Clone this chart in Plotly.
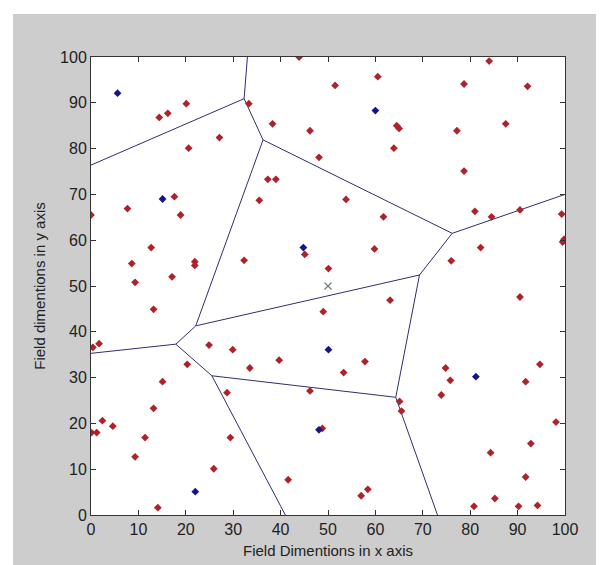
import plotly.graph_objects as go

# Sensor nodes (red)
node_x = [20.1, 16.2, 14.4, 27.1, 20.6, 33.3, 37.3, 43.9, 51.5, 60.5, 38.3, 46.2, 64.5, 65.0,
          63.9, 48.1, 39.0, 84.0, 78.7, 92.1, 77.2, 87.5, 78.7, 17.6, 7.7, 0.0, 18.9, 35.5,
          12.7, 8.6, 21.9, 21.9, 32.3, 17.1, 9.3, 13.2, 24.9, 29.9, 0.4, 1.7, 53.8, 61.7,
          45.1, 59.8, 50.1, 63.1, 49.0, 81.0, 84.5, 90.5, 99.3, 99.5, 99.8, 82.2, 76.0, 90.5,
          20.3, 33.5, 15.1, 28.7, 13.2, 2.4, 4.6, 0.1, 1.2, 11.4, 29.4, 9.3, 25.9, 14.1,
          39.7, 57.8, 53.3, 46.2, 65.1, 65.5, 48.8, 41.6, 58.4, 57.0,
          74.8, 75.8, 73.9, 94.7, 91.7, 98.1, 92.8, 84.3, 91.7, 85.2, 80.8, 90.2, 94.2]
node_y = [89.8, 87.7, 86.8, 82.4, 80.1, 89.8, 73.3, 100.0, 93.8, 95.7, 85.4, 83.9, 85.0, 84.4,
          80.1, 78.1, 73.3, 99.1, 94.1, 93.6, 83.9, 85.4, 75.1, 69.5, 66.9, 65.5, 65.5, 68.7,
          58.4, 54.9, 55.3, 54.5, 55.6, 52.0, 50.8, 44.9, 37.1, 36.1, 36.6, 37.4, 68.9, 65.1,
          56.9, 58.1, 53.8, 46.9, 44.4, 66.3, 65.1, 66.6, 65.7, 59.6, 60.2, 58.4, 55.5, 47.6,
          32.9, 32.1, 29.1, 26.7, 23.3, 20.6, 19.4, 18.0, 18.0, 16.9, 16.9, 12.7, 10.1, 1.6,
          33.8, 33.5, 31.1, 27.1, 24.8, 22.7, 18.9, 7.7, 5.6, 4.2,
          32.1, 29.4, 26.2, 32.9, 29.1, 20.3, 15.6, 13.6, 8.3, 3.6, 1.9, 1.9, 2.1]

# Cluster heads (blue)
head_x = [5.6, 15.1, 60.0, 44.8, 50.1, 48.1, 22.0, 81.2]
head_y = [92.1, 69.0, 88.3, 58.4, 36.1, 18.6, 5.1, 30.2]

# Base station
bs_x = [50.0]
bs_y = [50.0]

# Voronoi edges (polylines)
edges = [
    ([0.0, 32.3, 33.0], [76.4, 90.9, 100.0]),
    ([32.3, 36.3, 22.1, 17.9, 0.0], [90.9, 81.9, 41.3, 37.3, 35.3]),
    ([36.3, 76.2, 100.0], [81.9, 61.5, 70.0]),
    ([76.2, 69.3, 22.1], [61.5, 52.4, 41.3]),
    ([69.3, 64.3, 73.1], [52.4, 25.7, 0.0]),
    ([64.3, 25.5, 17.9], [25.7, 30.4, 37.3]),
    ([25.5, 41.0], [30.4, 0.0]),
]

x_ticks = [0, 10, 20, 30, 40, 50, 60, 70, 80, 90, 100]
y_ticks = [0, 10, 20, 30, 40, 50, 60, 70, 80, 90, 100]

fig = go.Figure()
for ex, ey in edges:
    fig.add_trace(go.Scatter(x=ex, y=ey, mode="lines",
                             line=dict(color="#2e2e70", width=1),
                             hoverinfo="skip", showlegend=False))
fig.add_trace(go.Scatter(x=node_x, y=node_y, mode="markers",
                         marker=dict(symbol="diamond", size=6, color="#b0222a"),
                         showlegend=False))
fig.add_trace(go.Scatter(x=head_x, y=head_y, mode="markers",
                         marker=dict(symbol="diamond", size=6, color="#15158a"),
                         showlegend=False))
fig.add_trace(go.Scatter(x=bs_x, y=bs_y, mode="markers",
                         marker=dict(symbol="x-thin-open", size=7, color="#777777",
                                     line=dict(width=1.2, color="#777777")),
                         showlegend=False))

tickfont = dict(family="Liberation Sans Narrow, Arial Narrow, Liberation Sans, Arial", size=16, color="#222222")
titlefont = dict(family="Liberation Sans, Arial", size=15, color="#222222")

fig.update_xaxes(range=[0, 100], tickvals=x_ticks, ticks="inside", ticklen=5, tickcolor="#333333",
                 showline=True, linecolor="#333333", linewidth=1, mirror="ticks",
                 showgrid=False, zeroline=False, tickfont=tickfont,
                 title=dict(text="Field Dimentions in x axis", font=titlefont, standoff=8))
fig.update_yaxes(range=[0, 100], tickvals=y_ticks, ticks="inside", ticklen=5, tickcolor="#333333",
                 showline=True, linecolor="#333333", linewidth=1, mirror="ticks",
                 showgrid=False, zeroline=False, tickfont=tickfont,
                 title=dict(text="Field dimentions in y axis", font=titlefont, standoff=10))

# thin white border around the grey figure
border = dict(type="rect", xref="paper", yref="paper", line=dict(width=0),
              fillcolor="white", layer="above")
W, H = 604, 565
L, R, T, B = 83, 47, 49, 57.5
pw, ph = W - L - R, H - T - B
def px(v):
    return (v - L) / pw
def py(v):
    return (H - B - v) / ph
shapes = [
    dict(border, x0=px(0), x1=px(5), y0=py(H), y1=py(0)),
    dict(border, x0=px(0), x1=px(W), y0=py(6), y1=py(0)),
    dict(border, x0=px(0), x1=px(W), y0=py(H), y1=py(561)),
    dict(border, x0=px(602), x1=px(W), y0=py(H), y1=py(0)),
]

fig.update_layout(width=W, height=H, margin=dict(l=L, r=R, t=T, b=B),
                  paper_bgcolor="#cdcdcd", plot_bgcolor="white",
                  shapes=shapes, showlegend=False)

fig.write_html("out.html")
